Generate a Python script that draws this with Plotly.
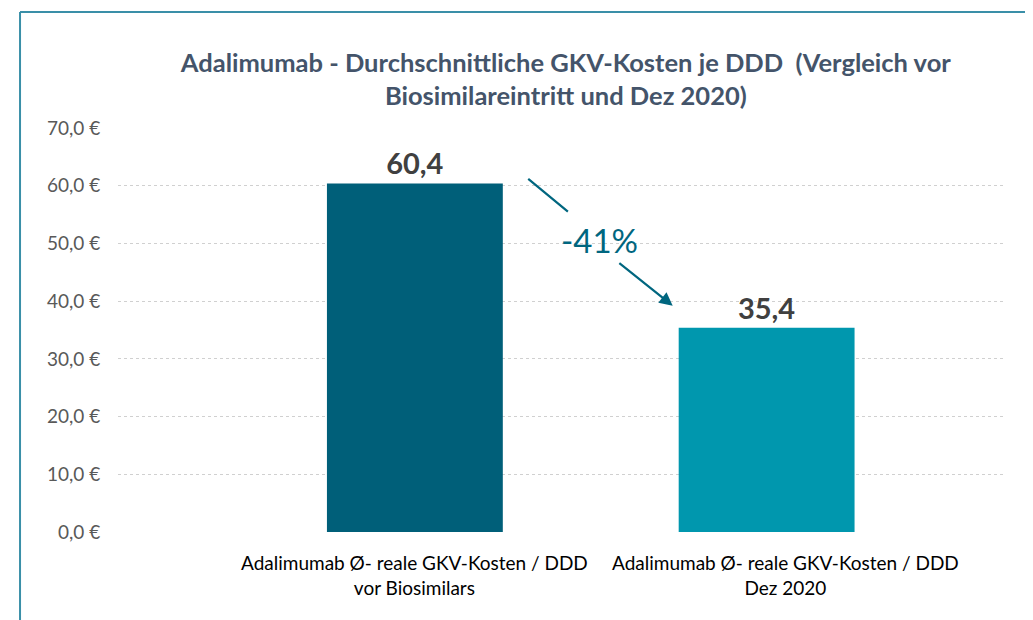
import plotly.graph_objects as go

categories = ["Adalimumab Ø- reale GKV-Kosten / DDD<br>vor Biosimilars",
              "Adalimumab Ø- reale GKV-Kosten / DDD<br>Dez 2020"]
values = [60.4, 35.4]
value_labels = ["60,4", "35,4"]
y_ticks = [0, 10, 20, 30, 40, 50, 60, 70]
y_tick_labels = ["0,0 €", "10,0 €", "20,0 €", "30,0 €", "40,0 €", "50,0 €", "60,0 €", "70,0 €"]
change_label = "-41%"

FONT = "Lato"
bar_colors = ["#005F79", "#0097AE"]
teal = "#00667F"
label_xshift = [0, 19]

fig = go.Figure()
fig.add_trace(go.Bar(
    x=[0, 1], y=values, width=0.5,
    marker=dict(color=bar_colors, line=dict(width=0)),
    text=value_labels, textposition="outside",
    textfont=dict(family=FONT, size=29, color="#404040", weight="bold"),
    cliponaxis=False, hoverinfo="skip",
))

# category labels below the axis
for i, cat in enumerate(categories):
    fig.add_annotation(x=i, y=0, xref="x", yref="y", text=cat, showarrow=False,
                       xanchor="center", yanchor="top", yshift=-17,
                       xshift=label_xshift[i], align="center",
                       font=dict(family=FONT, size=19, color="#000000"))

# -41% annotation: text and arrow segments
fig.add_annotation(x=0.526, y=50.6, text=change_label, showarrow=False,
                   font=dict(family=FONT, size=33, color=teal))
fig.add_annotation(x=0.435, y=55.5, ax=0.318, ay=61.4, xref="x", yref="y",
                   axref="x", ayref="y", text="", showarrow=True,
                   arrowhead=0, arrowwidth=2.2, arrowcolor=teal)
fig.add_annotation(x=0.733, y=39.2, ax=0.577, ay=46.8, xref="x", yref="y",
                   axref="x", ayref="y", text="", showarrow=True,
                   arrowhead=2, arrowsize=1.2, arrowwidth=2.2, arrowcolor=teal)

# frame
fig.add_shape(type="line", xref="paper", yref="paper", x0=-0.1107, x1=-0.1107,
              y0=-0.25, y1=1.287, line=dict(color="#3A8FA8", width=2))
fig.add_shape(type="line", xref="paper", yref="paper", x0=-0.1107, x1=1.05,
              y0=1.287, y1=1.287, line=dict(color="#3A8FA8", width=2))

fig.update_layout(
    width=1033, height=620,
    margin=dict(l=110, r=38, t=120, b=96),
    paper_bgcolor="white", plot_bgcolor="white",
    showlegend=False,
    title=dict(text="Adalimumab - Durchschnittliche GKV-Kosten je DDD  (Vergleich vor<br>Biosimilareintritt und Dez 2020)",
               x=0.540, xanchor="center", y=0.897, yanchor="middle",
               font=dict(family=FONT, size=25.5, color="#44546A", weight="bold")),
    xaxis=dict(range=[-0.844, 1.672], tickmode="array", tickvals=[0, 1],
               showticklabels=False, showgrid=False, zeroline=False,
               showline=False, ticks=""),
    yaxis=dict(range=[0, 70], tickmode="array", tickvals=y_ticks,
               ticktext=y_tick_labels, showgrid=True, gridcolor="#D0D0D0",
               griddash="dot", gridwidth=1, zeroline=False, showline=False,
               ticks="outside", ticklen=13, tickcolor="rgba(0,0,0,0)",
               tickfont=dict(family=FONT, size=19, color="#595959")),
    font=dict(family=FONT),
)

fig.write_html("out.html")
